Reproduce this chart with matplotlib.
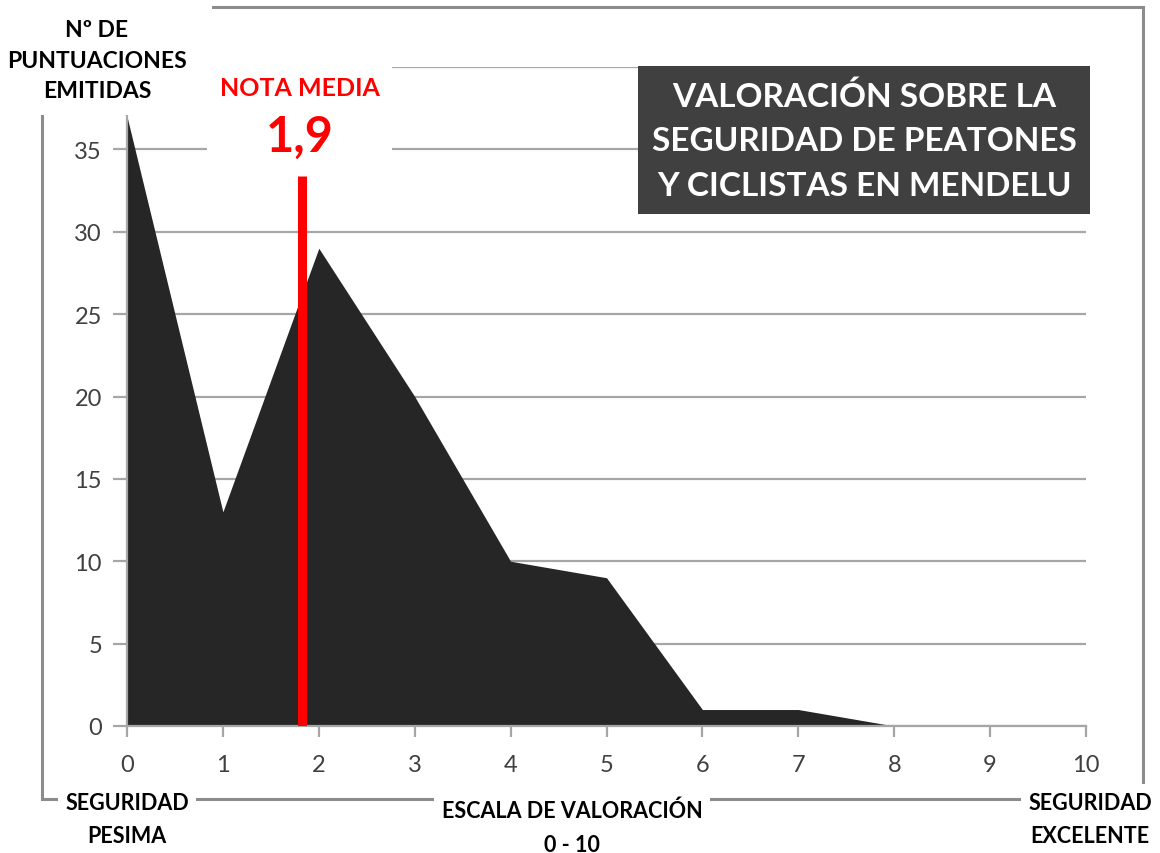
import numpy as np
import matplotlib.pyplot as plt
from matplotlib.patches import Rectangle

# valores
notas = [0, 1, 2, 3, 4, 5, 6, 7, 8, 9, 10]
puntuaciones = [37, 13, 29, 20, 10, 9, 1, 1, 0, 0, 0]
y_ticks = [0, 5, 10, 15, 20, 25, 30, 35, 40]
y_tick_labels = ['0', '5', '10', '15', '20', '25', '30', '35', '']
nota_media = 1.83
nota_media_txt = '1,9'
altura_linea = 33.4

plt.rcParams['font.family'] = ['Lato', 'DejaVu Sans']

W, H = 1160, 854
fig = plt.figure(figsize=(W / 100, H / 100), dpi=100)

def fx(px):
    return px / W

def fy(py):
    return 1 - py / H

# marco exterior del grafico
frame = Rectangle((fx(42), fy(800)), fx(1143) - fx(42), fy(8) - fy(800),
                  transform=fig.transFigure, fill=False, edgecolor='#8c8c8c',
                  lw=2.2, zorder=0)
fig.patches.append(frame)

ax = fig.add_axes([fx(127), fy(727), fx(1086) - fx(127), fy(68) - fy(727)])
ax.set_facecolor('none')

ax.fill_between(notas, puntuaciones, 0, color='#262626', lw=0, zorder=2)
ax.plot([nota_media, nota_media], [0, altura_linea], color='#ff0000', lw=6.5,
        solid_capstyle='butt', zorder=3)

ax.set_xlim(0, 10)
ax.set_ylim(0, 40)
ax.set_xticks(notas)
ax.set_yticks(y_ticks)
ax.set_yticklabels(y_tick_labels)
ax.yaxis.grid(True, color='#a6a6a6', lw=1.6, zorder=0)
ax.set_axisbelow(True)
for s in ['top', 'right']:
    ax.spines[s].set_visible(False)
for s in ['left', 'bottom']:
    ax.spines[s].set_color('#a6a6a6')
    ax.spines[s].set_linewidth(1.6)
ax.tick_params(axis='both', colors='#a6a6a6', width=1.6, length=8,
               labelcolor='#404040', labelsize=17)
ax.tick_params(axis='x', pad=12)
ax.tick_params(axis='y', length=10, pad=8)

# cajas blancas de los cuadros de texto (tapan marco y lineas de division)
white = dict(transform=fig.transFigure, facecolor='white', edgecolor='none', zorder=4)
fig.patches.append(Rectangle((fx(0), fy(116)), fx(212), fy(0) - fy(116), **white))
fig.patches.append(Rectangle((fx(207), fy(166)), fx(392) - fx(207), fy(58) - fy(166), **white))

# textos
fig.text(fx(97), fy(61), 'Nº DE\nPUNTUACIONES\nEMITIDAS', ha='center', va='center',
         fontsize=16.5, fontweight='bold', linespacing=1.55, color='black', zorder=5)

fig.text(fx(300), fy(88), 'NOTA MEDIA', ha='center', va='center', fontsize=18,
         fontweight='bold', color='#ff0000', zorder=5)
fig.text(fx(300), fy(137), nota_media_txt, ha='center', va='center', fontsize=35,
         fontweight='bold', color='#ff0000', zorder=5)

fig.text(fx(864), fy(141), 'VALORACIÓN SOBRE LA\nSEGURIDAD DE PEATONES\nY CICLISTAS EN MENDELU',
         ha='center', va='center', fontsize=24, fontweight='bold', color='white',
         linespacing=1.65,
         bbox=dict(facecolor='#404040', edgecolor='none', boxstyle='square,pad=0.42'),
         zorder=5)

lab = dict(ha='center', va='center', fontsize=15.5, fontweight='bold', color='black',
           linespacing=1.75, zorder=5,
           bbox=dict(facecolor='white', edgecolor='none', boxstyle='square,pad=0.35'))
fig.text(fx(127), fy(820), 'SEGURIDAD\nPESIMA', **lab)
fig.text(fx(572), fy(828), 'ESCALA DE VALORACIÓN\n0 - 10', **lab)
fig.text(fx(1090), fy(820), 'SEGURIDAD\nEXCELENTE', **lab)

fig.savefig('out.png', dpi=100)
